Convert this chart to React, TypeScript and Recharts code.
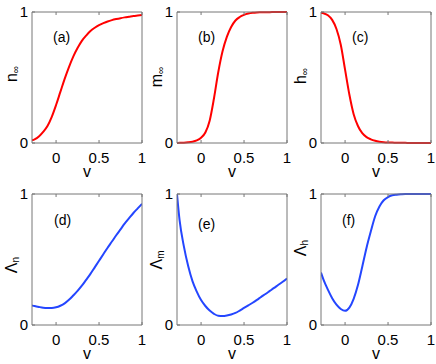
import { LineChart, Line, XAxis, YAxis, Label } from 'recharts';

// sample voltages shared by all six curves
const v = [-0.28, -0.25, -0.2, -0.15, -0.1, -0.05, 0, 0.05, 0.1, 0.15, 0.2, 0.25, 0.3, 0.35, 0.4, 0.45, 0.5, 0.55, 0.6, 0.65, 0.7, 0.75, 0.8, 0.85, 0.9, 0.95, 1.0];

const nInf = [0.02, 0.028, 0.05, 0.085, 0.13, 0.2, 0.29, 0.39, 0.49, 0.58, 0.66, 0.725, 0.78, 0.82, 0.855, 0.88, 0.9, 0.915, 0.928, 0.938, 0.946, 0.953, 0.959, 0.964, 0.969, 0.973, 0.977];
const mInf = [0.0, 0.001, 0.002, 0.005, 0.01, 0.02, 0.04, 0.08, 0.17, 0.34, 0.54, 0.7, 0.81, 0.885, 0.935, 0.962, 0.978, 0.988, 0.994, 0.997, 0.998, 0.999, 0.999, 1.0, 1.0, 1.0, 1.0];
const hInf = [0.995, 0.99, 0.975, 0.94, 0.87, 0.75, 0.56, 0.37, 0.22, 0.13, 0.075, 0.045, 0.028, 0.017, 0.01, 0.006, 0.004, 0.003, 0.002, 0.001, 0.001, 0.0, 0.0, 0.0, 0.0, 0.0, 0.0];
const lamN = [0.15, 0.145, 0.138, 0.132, 0.13, 0.13, 0.135, 0.147, 0.165, 0.192, 0.225, 0.26, 0.3, 0.345, 0.39, 0.44, 0.49, 0.54, 0.59, 0.637, 0.685, 0.73, 0.775, 0.815, 0.855, 0.89, 0.925];
const lamM = [1.0, 0.8, 0.6, 0.45, 0.335, 0.255, 0.19, 0.145, 0.11, 0.085, 0.07, 0.068, 0.072, 0.08, 0.092, 0.11, 0.13, 0.15, 0.17, 0.192, 0.215, 0.237, 0.26, 0.283, 0.307, 0.33, 0.355];
const lamH = [0.4, 0.345, 0.27, 0.205, 0.155, 0.122, 0.108, 0.133, 0.2, 0.305, 0.445, 0.59, 0.715, 0.83, 0.905, 0.952, 0.977, 0.99, 0.995, 0.998, 1.0, 1.0, 1.0, 1.0, 1.0, 1.0, 1.0];

const xTicks = [0, 0.5, 1];
const yTicks = [0, 1];

const FONT = '"Liberation Sans", Arial, Helvetica, sans-serif';
const AXIS = '#777';
const RED = '#ff0000';
const BLUE = '#2446ff';

// plot box inside each chart: left 32, top 12, 110 x 131
const PL = 32, PT = 12, PW = 110, PH = 131;

type PanelProps = {
  left: number; top: number; values: number[]; color: string;
  sym: string; sub: string; labelY: number; tag: string; tagX: number; tagY: number;
};

const noTick = () => <g />;

function Panel({ left, top, values, color, sym, sub, labelY, tag, tagX, tagY }: PanelProps) {
  const data = v.map((x, i) => ({ v: x, y: values[i] }));
  const lx = PL - 15;
  return (
    <div style={{ position: 'absolute', left, top }}>
      <LineChart width={PL + PW + 4} height={PT + PH + 38} data={data} margin={{ top: PT - 1, right: 3, bottom: 8, left: PL - 20 }}>
        <XAxis dataKey="v" type="number" domain={[-0.28, 1]} ticks={xTicks} allowDataOverflow height={30}
          tickSize={-3} tickMargin={12} stroke={AXIS} tick={{ fill: '#000', fontSize: 15 }}>
          <Label content={() => (
            <text x={PL + PW / 2} y={PT + PH + 34} textAnchor="middle" fontSize={16} fill="#000">v</text>
          )} />
        </XAxis>
        <XAxis xAxisId="t" orientation="top" dataKey="v" type="number" domain={[-0.28, 1]} ticks={xTicks} allowDataOverflow
          height={1} tickSize={-3} stroke={AXIS} tick={noTick} />
        <YAxis type="number" domain={[0, 1]} ticks={yTicks} width={20} tickSize={-3} tickMargin={7} stroke={AXIS}
          tick={{ fill: '#000', fontSize: 15 }}>
          <Label content={() => (
            <g>
              <text x={lx} y={labelY} transform={`rotate(-90 ${lx} ${labelY})`} textAnchor="middle" fontSize={16} fill="#000">
                {sym}<tspan fontSize={10} dy={2}>{sub}</tspan>
              </text>
              <text x={tagX} y={tagY} fontSize={14} fill="#000">{tag}</text>
            </g>
          )} />
        </YAxis>
        <YAxis yAxisId="r" orientation="right" type="number" domain={[0, 1]} ticks={yTicks} width={1} tickSize={-3}
          stroke={AXIS} tick={noTick} />
        <Line type="monotone" dataKey="y" stroke={color} strokeWidth={2} dot={false} isAnimationActive={false} />
      </LineChart>
    </div>
  );
}

export default function App() {
  return (
    <div style={{ position: 'absolute', left: 0, top: 0, width: 436, height: 364, background: '#fff', fontFamily: FONT }}>
      <Panel left={0} top={0} values={nInf} color={RED} sym="n" sub="∞" labelY={PT + 62} tag="(a)" tagX={53} tagY={42} />
      <Panel left={145} top={0} values={mInf} color={RED} sym="m" sub="∞" labelY={PT + 65} tag="(b)" tagX={53} tagY={42} />
      <Panel left={289} top={0} values={hInf} color={RED} sym="h" sub="∞" labelY={PT + 64} tag="(c)" tagX={63} tagY={42} />
      <Panel left={0} top={182} values={lamN} color={BLUE} sym="Λ" sub="n" labelY={PT + 71} tag="(d)" tagX={54} tagY={43} />
      <Panel left={145} top={182} values={lamM} color={BLUE} sym="Λ" sub="m" labelY={PT + 66} tag="(e)" tagX={53} tagY={47} />
      <Panel left={289} top={182} values={lamH} color={BLUE} sym="Λ" sub="h" labelY={PT + 54} tag="(f)" tagX={53} tagY={43} />
    </div>
  );
}
